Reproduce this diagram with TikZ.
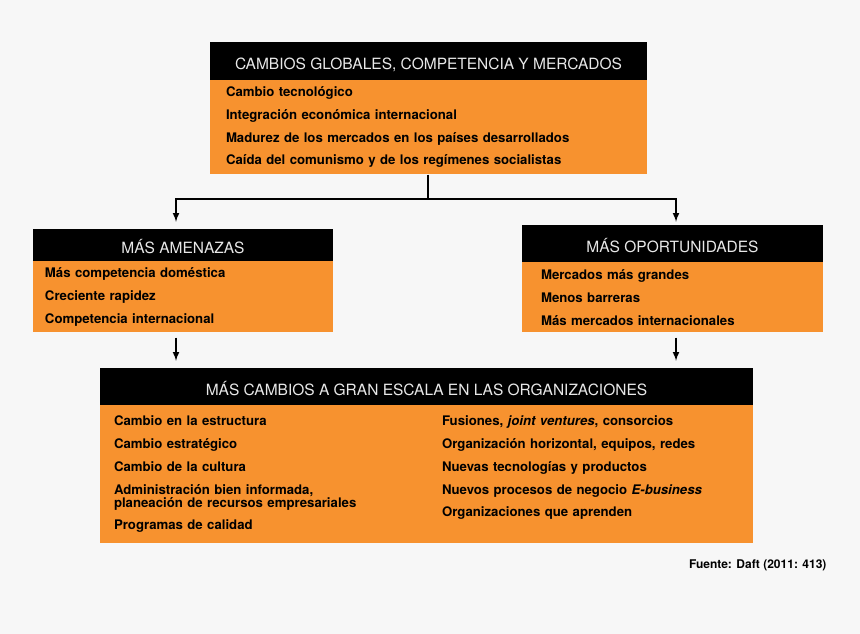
\documentclass[tikz,border=0pt]{standalone}
\usepackage{fontspec}
\setmainfont{TeX Gyre Heros}
\usepackage{tikz}
\usetikzlibrary{shapes, arrows.meta, positioning, calc}
\definecolor{orangebox}{HTML}{F7922F}
\definecolor{bggray}{HTML}{F7F7F7}
\definecolor{headtext}{HTML}{E8E8E8}
\tikzstyle{header} = [rectangle, minimum height=37pt, inner sep=0pt, text height=17pt, text depth=0pt, text centered, fill=black, text=headtext, font=\fontsize{15.5}{18}\selectfont]
\tikzstyle{list} = [rectangle, inner ysep=0pt, align=left, fill=orangebox, text=black, font=\bfseries\fontsize{13.2}{22.7}\selectfont]
\tikzstyle{arr} = [-latex, line width=2pt]

\begin{document}
\begin{tikzpicture}[x=1pt, y=-1pt]
\useasboundingbox (0,0) rectangle (860,634);
\fill[bggray] (0,0) rectangle (860,634);
\node (glob) [header, minimum width=437pt, minimum height=38pt] at (428.5,61) {CAMBIOS GLOBALES, COMPETENCIA Y MERCADOS};
\node (globlist) [list, below=0pt of glob, inner xsep=16pt, text width=405pt, minimum height=94pt] {Cambio tecnológico\\ Integración económica internacional\\ Madurez de los mercados en los países desarrollados\\ Caída del comunismo y de los regímenes socialistas};
\node (amen) [header, minimum width=300pt, minimum height=32pt] at (183,245) {MÁS AMENAZAS};
\node (amenlist) [list, below=0pt of amen, inner xsep=12pt, text width=276pt, minimum height=71pt] {Más competencia doméstica\\ Creciente rapidez\\ Competencia internacional};
\node (oport) [header, minimum width=301pt] at (672.5,243.5) {MÁS OPORTUNIDADES};
\node (oportlist) [list, below=0pt of oport, inner xsep=19pt, text width=263pt, minimum height=70pt] {Mercados más grandes\\ Menos barreras\\ Más mercados internacionales};
\node (camb) [header, minimum width=653pt] at (426.5,386.5) {MÁS CAMBIOS A GRAN ESCALA EN LAS ORGANIZACIONES};
\node (cambbody) [list, below=0pt of camb, inner xsep=14pt, text width=625pt, minimum height=138pt] {%
\begin{minipage}[t]{328pt}\raggedright
Cambio en la estructura\\ Cambio estratégico\\ Cambio de la cultura\\ Administración bien informada,\\[-9.7pt] planeación de recursos empresariales\\ Programas de calidad
\end{minipage}%
\begin{minipage}[t]{297pt}\raggedright
Fusiones, \textit{joint ventures}, consorcios\\ Organización horizontal, equipos, redes\\ Nuevas tecnologías y productos\\ Nuevos procesos de negocio \textit{E-business}\\ Organizaciones que aprenden
\end{minipage}};
\node (src) [anchor=east, font=\bfseries\fontsize{12}{14}\selectfont] at (830,565) {Fuente: Daft (2011: 413)};
% split of the top box into the two branches
\coordinate (split) at ($(globlist.south)+(-1,24)$);
\draw[line width=2pt] (globlist.south -| split) -- (split);
\draw[arr, shorten >=7pt] (split) -| ([xshift=-7pt]amen.north);
\draw[arr, shorten >=3pt] (split) -| ([xshift=3.5pt]oport.north);
\draw[arr, shorten <=5pt, shorten >=7pt] ([xshift=-7pt]amenlist.south) -- ([xshift=-7pt]amenlist.south |- camb.north);
\draw[arr, shorten <=5pt, shorten >=7pt] ([xshift=3.5pt]oportlist.south) -- ([xshift=3.5pt]oportlist.south |- camb.north);
\end{tikzpicture}
\end{document}
